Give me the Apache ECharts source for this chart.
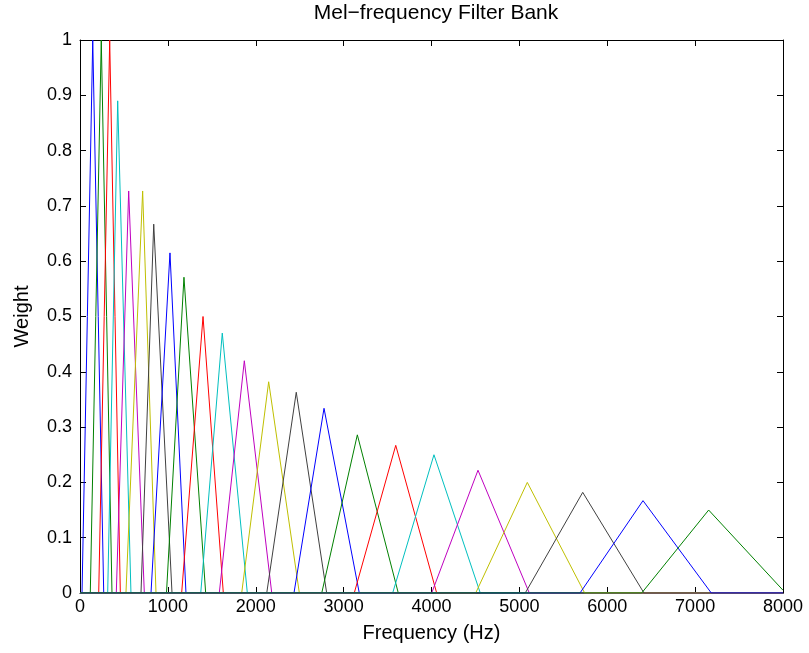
<!DOCTYPE html>
<html>
<head>
<meta charset="utf-8">
<script src="https://cdn.jsdelivr.net/npm/echarts@6/dist/echarts.min.js"></script>
<style>
  html, body { margin: 0; padding: 0; background: #fff; }
  #chart { width: 809px; height: 653px; }
</style>
</head>
<body>
<div id="chart"></div>
<script>
// filter edges, in Hz: left foot, peak, right foot
var filterLo   = [23, 117, 213, 315, 413, 523, 694, 808, 984, 1157, 1374, 1585, 1840, 2125, 2435, 2751, 3121, 3558, 4002, 4503, 5067, 5690, 6392];
var filterPeak = [145, 242, 338, 429, 554, 713, 839, 1024, 1183, 1400, 1619, 1870, 2147, 2461, 2777, 3156, 3593, 4028, 4529, 5090, 5721, 6407, 7154];
var filterHi   = [270, 364, 459, 580, 732, 865, 1047, 1206, 1430, 1631, 1904, 2182, 2496, 2807, 3178, 3622, 4059, 4555, 5113, 5743, 6418, 7184, 8000];
// peak weights
var filterHeight = [1, 1, 1, 0.89, 0.727, 0.727, 0.667, 0.615, 0.571, 0.5, 0.47, 0.42, 0.382, 0.363, 0.334, 0.286, 0.267, 0.25, 0.222, 0.2, 0.182, 0.167, 0.15];
// weight where the last filter meets the right edge
var lastEdgeWeight = 0.005;

// matlab default colour order b g r c m y k
var colorOrder = ['#0000ff', '#008000', '#ff0000', '#00bfbf', '#bf00bf', '#bfbf00', '#404040'];

var fontName = 'Liberation Sans';

var series = [];
for (var i = 0; i < filterPeak.length; i++) {
  var pts = [[0, 0], [filterLo[i], 0], [filterPeak[i], filterHeight[i]]];
  if (i == filterPeak.length - 1) {
    pts.push([filterHi[i], lastEdgeWeight]);
  } else {
    pts.push([filterHi[i], 0]);
    pts.push([8000, 0]);
  }
  series.push({
    type: 'line',
    data: pts,
    symbol: 'none',
    silent: true,
    lineStyle: { color: colorOrder[i % colorOrder.length], width: 1 },
    z: 2
  });
}

var chart = echarts.init(document.getElementById('chart'));

var tickStyle = { show: true, inside: true, length: 6, lineStyle: { color: '#000', width: 1 } };
var lineStyle = { show: true, onZero: false, lineStyle: { color: '#000', width: 1 } };

chart.setOption({
  animation: false,
  backgroundColor: '#fff',
  title: {
    text: 'Mel\u2212frequency Filter Bank',
    left: 431,
    textAlign: 'center',
    top: -2,
    textStyle: { fontFamily: fontName, fontSize: 21, fontWeight: 'normal', color: '#000' }
  },
  grid: { left: 80, right: 26, top: 40, bottom: 60 },
  xAxis: [{
    type: 'value',
    min: 0, max: 8000, interval: 1000,
    position: 'bottom',
    axisLine: lineStyle,
    axisTick: tickStyle,
    splitLine: { show: false },
    axisLabel: { fontFamily: fontName, fontSize: 18, color: '#000', margin: 5,
      formatter: function (v) { return String(v); } },
    name: 'Frequency (Hz)',
    nameLocation: 'middle',
    nameGap: 30,
    nameTextStyle: { fontFamily: fontName, fontSize: 20, color: '#000' }
  }, {
    type: 'value',
    min: 0, max: 8000, interval: 1000,
    position: 'top',
    axisLine: lineStyle,
    axisTick: tickStyle,
    splitLine: { show: false },
    axisLabel: { show: false }
  }],
  yAxis: [{
    type: 'value',
    min: 0, max: 1, interval: 0.1,
    position: 'left',
    axisLine: lineStyle,
    axisTick: tickStyle,
    splitLine: { show: false },
    axisLabel: { fontFamily: fontName, fontSize: 18, color: '#000', margin: 8 },
    name: 'Weight',
    nameLocation: 'middle',
    nameGap: 48,
    nameTextStyle: { fontFamily: fontName, fontSize: 20, color: '#000' }
  }, {
    type: 'value',
    min: 0, max: 1, interval: 0.1,
    position: 'right',
    axisLine: lineStyle,
    axisTick: tickStyle,
    splitLine: { show: false },
    axisLabel: { show: false }
  }],
  series: series
});
</script>
</body>
</html>
